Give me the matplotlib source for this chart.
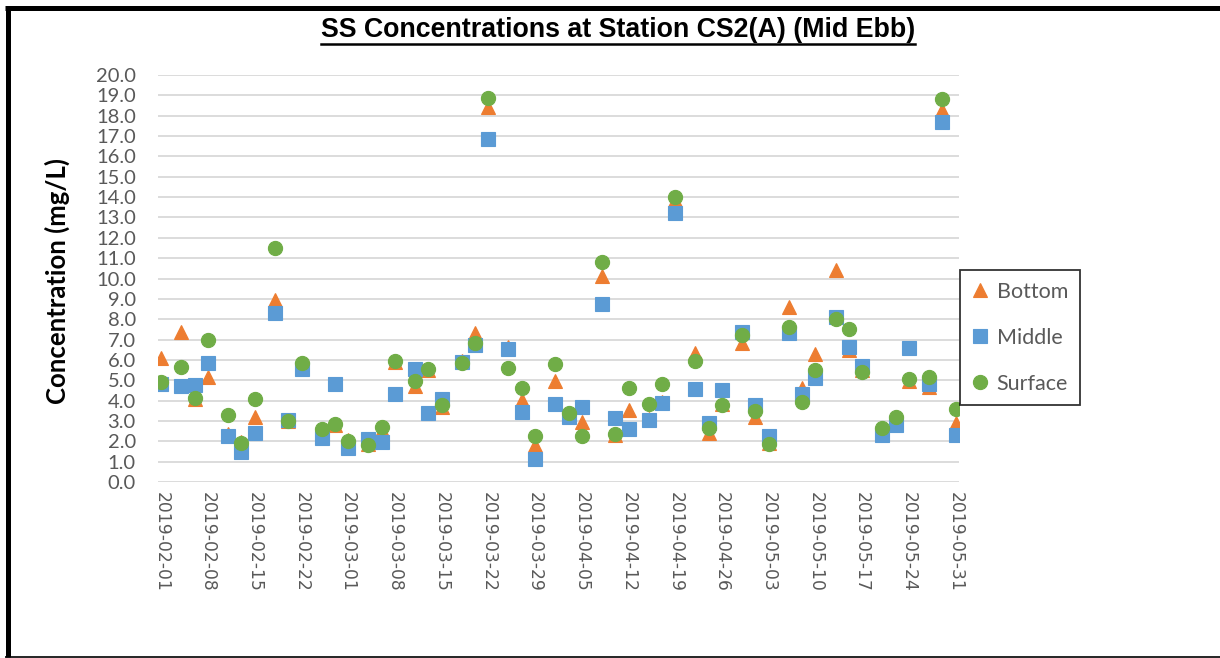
import numpy as np
import pandas as pd
import matplotlib
matplotlib.use("Agg")
import matplotlib.pyplot as plt
import matplotlib.dates as mdates
from matplotlib.lines import Line2D

# sampling days (Mon / Wed / Fri)
fechas = pd.to_datetime([
    "2019-02-01", "2019-02-04", "2019-02-06", "2019-02-08", "2019-02-11", "2019-02-13",
    "2019-02-15", "2019-02-18", "2019-02-20", "2019-02-22", "2019-02-25", "2019-02-27",
    "2019-03-01", "2019-03-04", "2019-03-06", "2019-03-08", "2019-03-11", "2019-03-13",
    "2019-03-15", "2019-03-18", "2019-03-20", "2019-03-22", "2019-03-25", "2019-03-27",
    "2019-03-29", "2019-04-01", "2019-04-03", "2019-04-05", "2019-04-08", "2019-04-10",
    "2019-04-12", "2019-04-15", "2019-04-17", "2019-04-19", "2019-04-22", "2019-04-24",
    "2019-04-26", "2019-04-29", "2019-05-01", "2019-05-03", "2019-05-06", "2019-05-08",
    "2019-05-10", "2019-05-13", "2019-05-15", "2019-05-17", "2019-05-20", "2019-05-22",
    "2019-05-24", "2019-05-27", "2019-05-29", "2019-05-31"])

# SS concentration (mg/L) per depth
bottom = [6.1, 7.35, 4.1, 5.15, 2.35, 1.95, 3.2, 8.95, 3.0, 5.8, 2.5, 2.8,
          2.05, 1.85, 2.55, 5.9, 4.7, 5.5, 3.7, 5.95, 7.3, 18.45, 6.65, 4.05,
          1.8, 4.95, 3.3, 2.95, 10.1, 2.3, 3.55, 3.1, 3.95, 13.85, 6.35, 2.4,
          3.85, 6.85, 3.2, 1.9, 8.6, 4.6, 6.3, 10.4, 6.5, 5.5, 2.45, 3.0,
          4.95, 4.65, 18.3, 2.9]
middle = [4.8, 4.7, 4.75, 5.85, 2.25, 1.45, 2.4, 8.3, 3.05, 5.55, 2.15, 4.8,
          1.65, 2.1, 1.95, 4.3, 5.55, 3.4, 4.1, 5.9, 6.75, 16.85, 6.55, 3.45,
          1.15, 3.85, 3.2, 3.7, 8.75, 3.15, 2.6, 3.05, 3.9, 13.2, 4.55, 2.9,
          4.5, 7.35, 3.8, 2.25, 7.3, 4.3, 5.1, 8.1, 6.65, 5.7, 2.3, 2.8,
          6.6, 4.8, 17.7, 2.3]
surface = [4.9, 5.65, 4.15, 7.0, 3.3, 1.9, 4.1, 11.5, 3.0, 5.85, 2.6, 2.85,
           2.0, 1.8, 2.7, 5.95, 4.95, 5.55, 3.8, 5.85, 6.85, 18.85, 5.6, 4.6,
           2.25, 5.8, 3.4, 2.25, 10.8, 2.35, 4.6, 3.85, 4.8, 14.0, 5.95, 2.65,
           3.8, 7.2, 3.5, 1.85, 7.6, 3.95, 5.5, 8.0, 7.5, 5.4, 2.65, 3.2,
           5.05, 5.15, 18.8, 3.6]

series = [("Bottom", bottom, "^", "#ED7D31"),
          ("Middle", middle, "s", "#5B9BD5"),
          ("Surface", surface, "o", "#70AD47")]

gris = "#595959"

fig = plt.figure(figsize=(12.2, 6.58), dpi=100)
ax = fig.add_axes([158/1220, 1-482/658, 801/1220, 407/658])

for nombre, vals, mk, col in series:
    ax.plot(fechas, vals, linestyle="none", marker=mk, ms=10.2, color=col,
            mec=col, mew=0.8, label=nombre, zorder=3)

# ejes
ax.set_ylim(0, 20)
ax.set_yticks(np.arange(0, 21, 1))
ax.yaxis.set_major_formatter(plt.FuncFormatter(lambda v, p: f"{v:.1f}"))
inicio = pd.Timestamp("2019-02-01")
fin = pd.Timestamp("2019-05-31")
ax.set_xlim(inicio - pd.Timedelta(hours=12), fin + pd.Timedelta(hours=12))
ax.set_xticks(pd.date_range(inicio, fin, freq="7D"))
ax.xaxis.set_major_formatter(mdates.DateFormatter("%Y-%m-%d"))

ax.grid(axis="y", color="#D9D9D9", lw=1.3, zorder=0)
ax.set_axisbelow(True)
for s in ax.spines.values():
    s.set_visible(False)
ax.tick_params(axis="both", length=0)
ax.tick_params(axis="y", pad=16, labelcolor=gris)
for t in ax.get_yticklabels():
    t.set_fontfamily("Lato")
    t.set_fontsize(14.5)
ax.tick_params(axis="x", pad=7, labelcolor=gris, labelsize=12.3)
for t in ax.get_xticklabels():
    t.set_rotation(270)
    t.set_ha("center")
    t.set_va("top")
    t.set_fontfamily("DejaVu Sans")

fig.text(57/1220, 1-281/658, "Concentration (mg/L)", rotation=90, ha="center",
         va="center", fontsize=18.5, fontweight="bold", family="Lato")

# titulo subrayado
titulo = fig.text(618/1220, 1-30/658, "SS Concentrations at Station CS2(A) (Mid Ebb)",
                  ha="center", va="center", fontsize=19.3, fontweight="bold",
                  family="Liberation Sans")
fig.canvas.draw()
bb = titulo.get_window_extent(fig.canvas.get_renderer()).transformed(fig.transFigure.inverted())
fig.add_artist(Line2D([bb.x0, bb.x1], [bb.y0 - 0.001, bb.y0 - 0.001],
                      transform=fig.transFigure, color="black", lw=1.8))

# leyenda
leg = ax.legend(loc="upper left", bbox_to_anchor=(960/1220, 1-270/658),
                bbox_transform=fig.transFigure, borderaxespad=0, frameon=True,
                fancybox=False, edgecolor="black", prop={"family": "Lato", "size": 15.5},
                labelspacing=1.2, handlelength=0.8, handletextpad=0.35,
                borderpad=0.55, labelcolor=gris)
leg.get_frame().set_linewidth(1.3)

# marco exterior
fig.add_artist(Line2D([5/1220, 1], [1-8/658, 1-8/658], transform=fig.transFigure,
                      color="black", lw=3.6, solid_capstyle="butt"))
fig.add_artist(Line2D([7.5/1220, 7.5/1220], [1-6/658, 1-657/658], transform=fig.transFigure,
                      color="black", lw=3.6, solid_capstyle="butt"))
fig.add_artist(Line2D([5/1220, 1], [1-657/658, 1-657/658], transform=fig.transFigure,
                      color="black", lw=1.2, solid_capstyle="butt"))

fig.savefig("out.png", dpi=100)
